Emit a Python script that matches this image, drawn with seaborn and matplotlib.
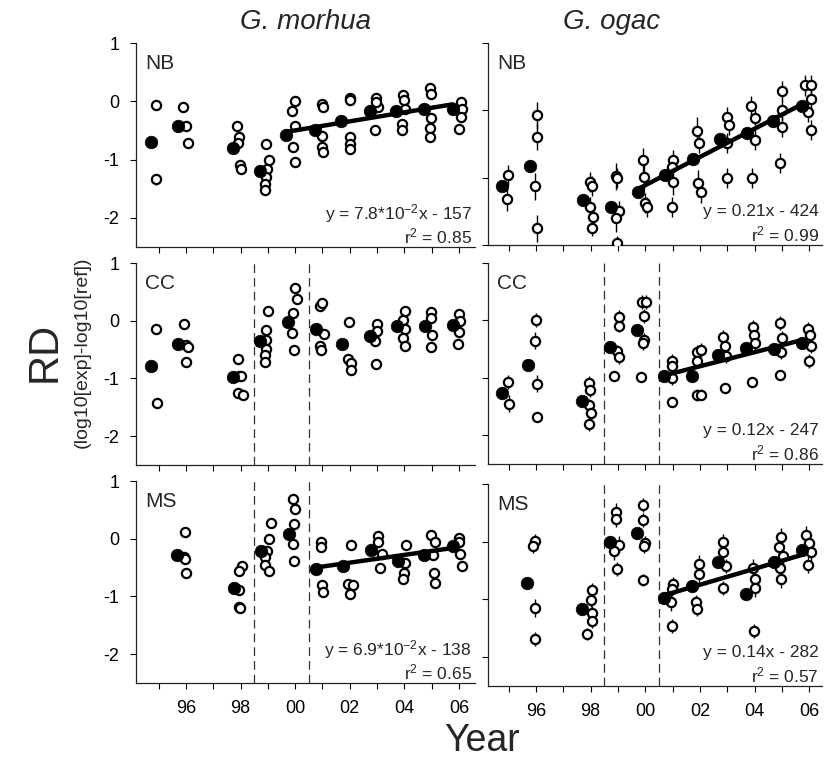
import numpy as np
import pandas as pd
import seaborn as sns
import matplotlib.pyplot as plt

# annual means (filled) and replicate samples (open, with error bars)
# x in decimal years, y = RD
nb_mor_mx = [1994.73, 1995.72, 1997.72, 1998.73, 1999.68, 2000.72, 2001.68, 2002.73, 2003.71, 2004.73, 2005.77]
nb_mor_my = [-0.70, -0.43, -0.80, -1.19, -0.57, -0.50, -0.34, -0.17, -0.17, -0.13, -0.14]
nb_mor_rep = [
    (1994.92, -0.06, 0.08), (1994.89, -1.34, 0.10),
    (1995.90, -0.09, 0.07), (1995.99, -0.43, 0.08), (1996.09, -0.71, 0.07),
    (1997.87, -0.43, 0.06), (1997.96, -0.62, 0.06), (1997.91, -0.72, 0.06), (1997.98, -1.10, 0.08), (1998.00, -1.17, 0.07),
    (1998.95, -0.73, 0.08), (1999.06, -1.00, 0.07), (1998.98, -1.16, 0.07), (1998.95, -1.30, 0.07), (1998.88, -1.42, 0.07), (1998.88, -1.53, 0.08),
    (1999.99, 0.00, 0.06), (1999.89, -0.17, 0.06), (1999.99, -0.43, 0.07), (1999.92, -0.78, 0.06), (2000.00, -1.05, 0.08),
    (2000.98, -0.05, 0.06), (2001.02, -0.10, 0.05), (2000.98, -0.60, 0.06), (2000.98, -0.79, 0.05), (2001.02, -0.87, 0.06),
    (2002.00, 0.06, 0.06), (2002.00, 0.02, 0.05), (2002.00, -0.61, 0.05), (2002.00, -0.73, 0.06), (2002.00, -0.82, 0.07),
    (2002.97, 0.06, 0.06), (2003.04, -0.10, 0.06), (2002.94, -0.49, 0.08), (2002.98, -0.02, 0.05),
    (2003.96, 0.10, 0.06), (2004.00, 0.02, 0.05), (2004.02, -0.13, 0.06), (2003.90, -0.39, 0.06), (2003.90, -0.50, 0.07),
    (2004.94, 0.22, 0.05), (2004.96, 0.13, 0.05), (2004.98, -0.28, 0.06), (2004.95, -0.45, 0.06), (2004.95, -0.61, 0.08),
    (2006.09, -0.01, 0.06), (2006.10, -0.14, 0.06), (2006.09, -0.27, 0.06), (2006.00, -0.47, 0.07),
]

nb_oga_mx = [1994.77, 1995.76, 1997.73, 1998.75, 1999.75, 2000.73, 2001.74, 2002.74, 2003.72, 2004.69, 2005.73]
nb_oga_my = [-1.13, -0.83, -1.33, -1.43, -1.22, -0.96, -0.73, -0.43, -0.34, -0.16, 0.06]
nb_oga_rep = [
    (1994.99, -0.96, 0.15), (1994.95, -1.32, 0.17),
    (1996.02, -0.07, 0.20), (1996.02, -0.39, 0.20), (1995.96, -1.13, 0.20), (1996.02, -1.75, 0.20),
    (1997.98, -1.06, 0.15), (1998.06, -1.12, 0.15), (1997.98, -1.43, 0.15), (1998.10, -1.58, 0.15), (1998.06, -1.75, 0.12),
    (1998.93, -0.98, 0.20), (1998.95, -1.00, 0.15), (1999.04, -1.50, 0.15), (1998.93, -1.60, 0.20), (1998.95, -1.97, 0.10),
    (1999.93, -0.74, 0.18), (1999.96, -0.99, 0.20), (1999.99, -1.38, 0.15), (2000.08, -1.44, 0.15),
    (2001.00, -0.74, 0.15), (2000.99, -0.84, 0.15), (2001.00, -1.06, 0.20), (2000.97, -1.44, 0.15),
    (2001.89, -0.30, 0.20), (2001.95, -0.49, 0.15), (2001.93, -1.08, 0.20), (2002.04, -1.22, 0.15),
    (2002.98, -0.10, 0.15), (2003.06, -0.22, 0.15), (2003.00, -0.49, 0.15), (2002.98, -1.00, 0.15),
    (2003.88, 0.06, 0.15), (2004.03, -0.11, 0.15), (2004.00, -0.44, 0.15), (2003.91, -1.00, 0.15),
    (2005.00, 0.29, 0.15), (2005.02, 0.01, 0.15), (2005.02, -0.25, 0.15), (2004.95, -0.78, 0.15),
    (2005.85, 0.37, 0.15), (2006.07, 0.37, 0.15), (2006.07, 0.17, 0.15), (2005.95, -0.03, 0.15), (2006.07, -0.29, 0.15),
]

cc_mor_mx = [1994.73, 1995.72, 1997.72, 1998.73, 1999.74, 2000.76, 2001.72, 2002.73, 2003.74, 2004.76, 2005.80]
cc_mor_my = [-0.78, -0.40, -0.97, -0.36, -0.03, -0.14, -0.40, -0.27, -0.10, -0.10, -0.07]
cc_mor_rep = [
    (1994.90, -0.14, 0.05), (1994.95, -1.42, 0.06),
    (1995.94, -0.05, 0.05), (1996.02, -0.42, 0.05), (1996.06, -0.45, 0.05), (1996.02, -0.72, 0.05),
    (1997.91, -0.66, 0.05), (1997.96, -0.95, 0.06), (1998.00, -0.96, 0.06), (1997.89, -1.26, 0.05), (1998.09, -1.28, 0.05),
    (1999.01, 0.16, 0.05), (1998.94, -0.16, 0.05), (1998.94, -0.33, 0.05), (1998.94, -0.49, 0.05), (1998.88, -0.60, 0.05), (1998.91, -0.72, 0.05),
    (1999.99, 0.56, 0.05), (2000.08, 0.37, 0.05), (1999.92, 0.13, 0.05), (1999.90, -0.21, 0.05), (1999.96, -0.50, 0.05),
    (2000.92, 0.26, 0.05), (2000.98, 0.30, 0.05), (2001.07, -0.23, 0.05), (2000.92, -0.43, 0.05), (2000.94, -0.51, 0.05),
    (2001.97, -0.03, 0.06), (2001.94, -0.66, 0.05), (2002.06, -0.73, 0.05), (2002.06, -0.86, 0.05),
    (2003.00, -0.05, 0.05), (2003.00, -0.18, 0.05), (2002.94, -0.36, 0.05), (2002.95, -0.75, 0.05),
    (2004.02, 0.16, 0.05), (2003.96, 0.02, 0.05), (2004.04, -0.14, 0.05), (2003.96, -0.30, 0.05), (2004.02, -0.43, 0.05),
    (2004.98, 0.15, 0.05), (2004.96, 0.05, 0.05), (2005.00, -0.25, 0.05), (2004.96, -0.45, 0.05),
    (2006.00, 0.12, 0.05), (2006.04, 0.00, 0.05), (2006.02, -0.20, 0.05), (2005.98, -0.40, 0.05),
]

cc_oga_mx = [1994.74, 1995.72, 1997.70, 1998.69, 1999.69, 2000.69, 2001.70, 2002.68, 2003.70, 2004.70, 2005.72]
cc_oga_my = [-1.26, -0.77, -1.40, -0.46, -0.16, -0.96, -0.96, -0.61, -0.48, -0.50, -0.40]
cc_oga_rep = [
    (1994.99, -1.07, 0.12), (1995.02, -1.45, 0.15),
    (1996.00, 0.01, 0.12), (1995.96, -0.35, 0.15), (1996.02, -1.10, 0.15), (1996.02, -1.68, 0.08),
    (1997.94, -1.09, 0.12), (1997.98, -1.22, 0.12), (1997.92, -1.48, 0.12), (1998.01, -1.61, 0.12), (1997.92, -1.81, 0.12),
    (1999.02, 0.06, 0.12), (1999.02, -0.09, 0.12), (1998.95, -0.53, 0.10), (1999.02, -0.64, 0.12), (1998.87, -0.97, 0.06),
    (1999.87, 0.32, 0.12), (2000.03, 0.32, 0.12), (1999.97, 0.08, 0.12), (1999.96, -0.34, 0.12), (1999.93, -0.39, 0.12), (1999.85, -0.99, 0.06),
    (2000.99, -0.70, 0.12), (2000.99, -0.80, 0.12), (2000.97, -1.01, 0.12), (2000.97, -1.42, 0.08),
    (2001.89, -0.55, 0.12), (2002.04, -0.52, 0.12), (2001.89, -0.70, 0.12), (2001.89, -1.30, 0.10), (2002.04, -1.29, 0.10),
    (2002.86, -0.28, 0.12), (2002.90, -0.45, 0.12), (2002.95, -0.62, 0.12), (2002.92, -1.17, 0.08),
    (2003.95, -0.12, 0.12), (2003.98, -0.25, 0.12), (2004.00, -0.40, 0.12), (2003.90, -1.08, 0.08),
    (2004.95, -0.05, 0.12), (2005.00, -0.30, 0.12), (2004.98, -0.55, 0.12), (2004.95, -0.95, 0.08),
    (2005.95, -0.15, 0.12), (2006.02, -0.25, 0.12), (2006.05, -0.45, 0.12), (2005.98, -0.70, 0.12),
]

ms_mor_mx = [1995.68, 1997.75, 1998.76, 1999.78, 2000.76, 2001.74, 2002.77, 2003.77, 2004.73, 2005.80]
ms_mor_my = [-0.29, -0.86, -0.21, 0.09, -0.52, -0.48, -0.19, -0.38, -0.28, -0.13]
ms_mor_rep = [
    (1995.96, 0.11, 0.07), (1995.94, -0.32, 0.06), (1995.98, -0.36, 0.06), (1996.00, -0.59, 0.06),
    (1998.05, -0.48, 0.06), (1997.96, -0.56, 0.06), (1997.93, -0.88, 0.06), (1997.93, -1.18, 0.06), (1997.98, -1.20, 0.06),
    (1999.10, 0.28, 0.06), (1999.06, -0.01, 0.06), (1998.98, -0.22, 0.06), (1998.88, -0.32, 0.06), (1998.91, -0.45, 0.06), (1999.06, -0.56, 0.06),
    (1999.94, 0.68, 0.06), (1999.99, 0.51, 0.06), (1999.96, 0.26, 0.06), (1999.94, -0.10, 0.06), (1999.96, -0.39, 0.06),
    (2000.94, -0.06, 0.06), (2000.96, -0.15, 0.06), (2000.98, -0.80, 0.06), (2001.02, -0.93, 0.06),
    (2002.05, -0.11, 0.06), (2001.93, -0.78, 0.06), (2002.11, -0.80, 0.06), (2002.02, -0.95, 0.06),
    (2003.04, 0.05, 0.06), (2003.02, -0.06, 0.06), (2003.17, -0.26, 0.06), (2003.10, -0.51, 0.06),
    (2004.06, -0.11, 0.06), (2004.02, -0.42, 0.06), (2004.00, -0.59, 0.06), (2003.94, -0.69, 0.06),
    (2004.98, 0.06, 0.06), (2005.13, -0.06, 0.06), (2005.04, -0.28, 0.06), (2005.10, -0.59, 0.06), (2005.13, -0.76, 0.06),
    (2006.01, 0.02, 0.06), (2006.01, -0.06, 0.06), (2006.05, -0.26, 0.06), (2006.11, -0.47, 0.06),
]

ms_oga_mx = [1995.68, 1997.70, 1998.69, 1999.69, 2000.69, 2001.70, 2002.68, 2003.70, 2004.70, 2005.72]
ms_oga_my = [-0.72, -1.17, 0.00, 0.15, -0.98, -0.76, -0.35, -0.90, -0.35, -0.14]
ms_oga_rep = [
    (1995.96, 0.02, 0.12), (1995.87, -0.08, 0.12), (1995.96, -1.15, 0.15), (1995.96, -1.68, 0.12),
    (1998.04, -0.84, 0.12), (1998.00, -1.01, 0.12), (1998.06, -1.23, 0.12), (1998.04, -1.37, 0.12), (1997.88, -1.60, 0.10),
    (1998.93, 0.52, 0.15), (1998.93, 0.40, 0.15), (1999.04, -0.05, 0.15), (1998.87, -0.16, 0.15), (1998.95, -0.47, 0.12),
    (1999.90, 0.64, 0.12), (1999.92, 0.38, 0.12), (1999.99, -0.02, 0.12), (1999.96, -0.08, 0.12), (1999.90, -0.66, 0.10),
    (2001.00, -0.73, 0.12), (2000.99, -0.82, 0.12), (2000.94, -1.05, 0.15), (2000.99, -1.46, 0.12),
    (2001.98, -0.38, 0.15), (2001.95, -0.56, 0.15), (2001.85, -1.05, 0.12), (2001.91, -1.17, 0.12),
    (2002.84, -0.01, 0.15), (2002.86, -0.18, 0.15), (2002.95, -0.42, 0.12), (2002.86, -0.80, 0.12),
    (2003.95, -0.45, 0.15), (2004.00, -0.65, 0.15), (2004.02, -0.80, 0.15), (2003.98, -1.55, 0.12),
    (2004.98, 0.09, 0.15), (2004.90, -0.10, 0.15), (2005.05, -0.25, 0.15), (2004.92, -0.45, 0.15), (2004.96, -0.65, 0.15),
    (2005.90, 0.12, 0.15), (2006.00, -0.02, 0.15), (2006.08, -0.18, 0.15), (2005.95, -0.40, 0.15),
]

# equations of the fits on the annual means
eq_text = {
    ("NB", 0): (r"y = 7.8*10$^{-2}$x - 157", r"r$^{2}$ = 0.85"),
    ("NB", 1): ("y = 0.21x - 424", r"r$^{2}$ = 0.99"),
    ("CC", 1): ("y = 0.12x - 247", r"r$^{2}$ = 0.86"),
    ("MS", 0): (r"y = 6.9*10$^{-2}$x - 138", r"r$^{2}$ = 0.65"),
    ("MS", 1): ("y = 0.14x - 282", r"r$^{2}$ = 0.57"),
}
fit_from = {("NB", 0): 1999.5, ("NB", 1): 1999.5, ("CC", 1): 2000.5, ("MS", 0): 2000.5, ("MS", 1): 2000.5}

sites = ["NB", "CC", "MS"]
species = ["G. morhua", "G. ogac"]
panels = {
    ("NB", 0): (nb_mor_mx, nb_mor_my, nb_mor_rep),
    ("NB", 1): (nb_oga_mx, nb_oga_my, nb_oga_rep),
    ("CC", 0): (cc_mor_mx, cc_mor_my, cc_mor_rep),
    ("CC", 1): (cc_oga_mx, cc_oga_my, cc_oga_rep),
    ("MS", 0): (ms_mor_mx, ms_mor_my, ms_mor_rep),
    ("MS", 1): (ms_oga_mx, ms_oga_my, ms_oga_rep),
}

sns.set_style("ticks")
plt.rcParams["font.family"] = ["Liberation Sans", "DejaVu Sans"]
plt.rcParams["mathtext.default"] = "regular"

W, H = 824, 759
fig = plt.figure(figsize=(W / 100, H / 100), dpi=100)

# axes boxes in pixels: left, top, right, bottom
boxes = {
    ("NB", 0): (136, 43, 475, 247), ("NB", 1): (488, 43, 822, 245),
    ("CC", 0): (136, 263, 475, 465), ("CC", 1): (488, 263, 822, 464),
    ("MS", 0): (136, 481, 475, 683), ("MS", 1): (488, 484, 822, 686),
}

years = np.arange(1995, 2007)
for (site, col), (mx, my, rep) in panels.items():
    l, t, r, b = boxes[(site, col)]
    ax = fig.add_axes([l / W, 1 - b / H, (r - l) / W, (b - t) / H])
    rep_df = pd.DataFrame(rep, columns=["year", "rd", "err"])
    mean_df = pd.DataFrame({"year": mx, "rd": my})

    if site != "NB":
        for xv in (1998.5, 2000.5):
            ax.axvline(xv, color="#333333", lw=0.9, dashes=(7, 4), zorder=1)

    ax.errorbar(rep_df["year"], rep_df["rd"], yerr=rep_df["err"], fmt="none",
                ecolor="black", elinewidth=1.0, capsize=0, zorder=2)
    sns.scatterplot(data=rep_df, x="year", y="rd", ax=ax, s=44, marker="o",
                    facecolor="white", edgecolor="black", linewidth=1.6, zorder=3)
    sns.scatterplot(data=mean_df, x="year", y="rd", ax=ax, s=82, color="black",
                    edgecolor="black", linewidth=0.5, zorder=4)

    if (site, col) in eq_text:
        sub = mean_df[mean_df["year"] > fit_from[(site, col)]]
        sns.regplot(data=sub, x="year", y="rd", ax=ax, scatter=False, ci=None,
                    truncate=True, line_kws=dict(color="black", lw=3.2, zorder=5))
        e1, e2 = eq_text[(site, col)]
        ax.text(0.99, 0.165, e1, transform=ax.transAxes, ha="right", va="center", fontsize=12.5)
        ax.text(0.99, 0.05, e2, transform=ax.transAxes, ha="right", va="center", fontsize=12.5)

    if site == "NB" and col == 1:
        ax.set_ylim(-2, 1)
    else:
        ax.set_ylim(-2.5, 1)
    ax.set_xlim((1994.17, 2006.59) if col == 0 else (1994.24, 2006.47))
    ax.set_yticks([1, 0, -1, -2])
    ax.set_xticks(years)
    if site == "MS":
        ax.set_xticklabels([f"{y % 100:02d}" if y % 2 == 0 else "" for y in years])
    else:
        ax.set_xticklabels([])
    if col == 0:
        ax.set_yticklabels(["1", "0", "-1", "-2"])
    else:
        ax.set_yticklabels([])
    ax.tick_params(axis="both", direction="out", length=4, width=0.8, labelsize=13, pad=8, colors="black")
    ax.set_xlabel("")
    ax.set_ylabel("")
    sns.despine(ax=ax)
    for sp in ("left", "bottom"):
        ax.spines[sp].set_linewidth(0.9)
        ax.spines[sp].set_color("#222222")
    ax.text(0.027, 0.9, site, transform=ax.transAxes, ha="left", va="center", fontsize=15)

fig.text(305 / W, 1 - 22 / H, species[0], ha="center", va="center", fontsize=20, style="italic")
fig.text(612 / W, 1 - 22 / H, species[1], ha="center", va="center", fontsize=20, style="italic")
fig.text(45 / W, 1 - 352 / H, "RD", ha="center", va="center", fontsize=30, rotation=90)
fig.text(82 / W, 1 - 352 / H, "(log10[exp]-log10[ref])", ha="center", va="center", fontsize=14, rotation=90)
fig.text(482 / W, 1 - 741 / H, "Year", ha="center", va="center", fontsize=27)

fig.savefig("out.png", dpi=100)
